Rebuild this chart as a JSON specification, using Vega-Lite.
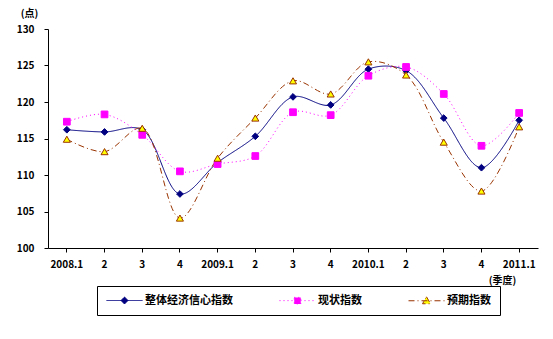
{
  "$schema": "https://vega.github.io/schema/vega-lite/v6.json",
  "width": 490,
  "height": 219,
  "autosize": {"type": "none"},
  "padding": {"left": 48, "top": 29, "right": 15, "bottom": 91},
  "background": "white",
  "config": {
    "view": {"stroke": null},
    "font": "Noto Sans CJK SC",
    "axis": {"labelFont": "Noto Sans CJK SC", "labelFontWeight": "bold", "labelFontSize": 10, "labelColor": "black", "titleFont": "Noto Sans CJK SC", "titleFontWeight": "bold", "titleFontSize": 10, "titleColor": "black", "domainColor": "black", "tickColor": "black", "grid": false}
  },
  "data": {
    "values": [
      {"q": "2008.1", "s": "整体经济信心指数", "v": 116.2},
      {"q": "2008.2", "s": "整体经济信心指数", "v": 115.9},
      {"q": "2008.3", "s": "整体经济信心指数", "v": 116.2},
      {"q": "2008.4", "s": "整体经济信心指数", "v": 107.4},
      {"q": "2009.1", "s": "整体经济信心指数", "v": 111.7},
      {"q": "2009.2", "s": "整体经济信心指数", "v": 115.3},
      {"q": "2009.3", "s": "整体经济信心指数", "v": 120.7},
      {"q": "2009.4", "s": "整体经济信心指数", "v": 119.6},
      {"q": "2010.1", "s": "整体经济信心指数", "v": 124.5},
      {"q": "2010.2", "s": "整体经济信心指数", "v": 124.3},
      {"q": "2010.3", "s": "整体经济信心指数", "v": 117.8},
      {"q": "2010.4", "s": "整体经济信心指数", "v": 111.0},
      {"q": "2011.1", "s": "整体经济信心指数", "v": 117.5},
      {"q": "2008.1", "s": "现状指数", "v": 117.3},
      {"q": "2008.2", "s": "现状指数", "v": 118.3},
      {"q": "2008.3", "s": "现状指数", "v": 115.5},
      {"q": "2008.4", "s": "现状指数", "v": 110.5},
      {"q": "2009.1", "s": "现状指数", "v": 111.5},
      {"q": "2009.2", "s": "现状指数", "v": 112.6},
      {"q": "2009.3", "s": "现状指数", "v": 118.6},
      {"q": "2009.4", "s": "现状指数", "v": 118.2},
      {"q": "2010.1", "s": "现状指数", "v": 123.6},
      {"q": "2010.2", "s": "现状指数", "v": 124.8},
      {"q": "2010.3", "s": "现状指数", "v": 121.1},
      {"q": "2010.4", "s": "现状指数", "v": 114.0},
      {"q": "2011.1", "s": "现状指数", "v": 118.5},
      {"q": "2008.1", "s": "预期指数", "v": 114.9},
      {"q": "2008.2", "s": "预期指数", "v": 113.2},
      {"q": "2008.3", "s": "预期指数", "v": 116.4},
      {"q": "2008.4", "s": "预期指数", "v": 104.1},
      {"q": "2009.1", "s": "预期指数", "v": 112.3},
      {"q": "2009.2", "s": "预期指数", "v": 117.8},
      {"q": "2009.3", "s": "预期指数", "v": 122.9},
      {"q": "2009.4", "s": "预期指数", "v": 121.1},
      {"q": "2010.1", "s": "预期指数", "v": 125.5},
      {"q": "2010.2", "s": "预期指数", "v": 123.7},
      {"q": "2010.3", "s": "预期指数", "v": 114.5},
      {"q": "2010.4", "s": "预期指数", "v": 107.8},
      {"q": "2011.1", "s": "预期指数", "v": 116.6}
    ]
  },
  "encoding": {
    "x": {
      "field": "q", "type": "ordinal", "sort": null,
      "scale": {"type": "band", "paddingInner": 0, "paddingOuter": 0},
      "axis": {
        "title": "(季度)", "titleX": 454, "titleY": 32, "titleBaseline": "middle", "titleAlign": "center",
        "labelAngle": 0, "tickSize": 4, "labelPadding": 7,
        "labelExpr": "slice(datum.value, 5) == '1' ? datum.value : slice(datum.value, 5)"
      }
    },
    "y": {
      "field": "v", "type": "quantitative",
      "scale": {"domain": [100, 130], "nice": false, "zero": false},
      "axis": {
        "title": "(点)", "titleAngle": 0, "titleX": -19, "titleY": -16, "titleBaseline": "middle", "titleAlign": "center",
        "values": [100, 105, 110, 115, 120, 125, 130], "tickSize": 4, "labelPadding": 10
      }
    }
  },
  "layer": [
    {
      "mark": {"type": "line", "interpolate": "catmull-rom", "strokeWidth": 1},
      "encoding": {
        "color": {
          "field": "s", "type": "nominal",
          "scale": {"domain": ["整体经济信心指数", "现状指数", "预期指数"], "range": ["#000080", "#FF00FF", "#993300"]},
          "legend": {
            "title": null, "orient": "none", "legendX": 49, "legendY": 257, "direction": "horizontal",
            "strokeColor": "black", "padding": 9, "columnPadding": 44, "symbolSize": 100, "symbolStrokeWidth": 1, "symbolOffset": 13,
            "labelFont": "Noto Sans CJK SC", "labelFontWeight": "bold", "labelFontSize": 11, "labelColor": "black", "labelOffset": 15,
            "encode": {
              "symbols": {
                "update": {
                  "shape": {"signal": "datum.value == '整体经济信心指数' ? 'M-3.6,0H3.6M0,-0.7L0.7,0L0,0.7L-0.7,0Z' : datum.value == '现状指数' ? 'M-3.6,0H-0.6M0.6,0H3.6M-0.65,-0.65H0.65V0.65H-0.65Z' : 'M-3.6,0H3.6M0,-0.8L0.8,0.6H-0.8Z'"},
                  "fill": {"signal": "datum.value == '整体经济信心指数' ? '#000080' : datum.value == '现状指数' ? '#FF00FF' : '#FFFF00'"},
                  "strokeDash": {"signal": "datum.value == '整体经济信心指数' ? '1,0' : datum.value == '现状指数' ? '1,3' : '6,3,1,3'"},
                  "opacity": {"value": 1}
                }
              }
            }
          }
        },
        "strokeDash": {
          "field": "s", "type": "nominal",
          "scale": {"domain": ["整体经济信心指数", "现状指数", "预期指数"], "range": [[1, 0], [1, 3], [6, 3, 1, 3]]},
          "legend": null
        }
      }
    },
    {
      "transform": [{"filter": {"field": "s", "equal": "整体经济信心指数"}}],
      "mark": {"type": "point", "shape": "diamond", "filled": true, "size": 45, "fill": "#000080", "stroke": "#000080", "strokeWidth": 1, "opacity": 1}
    },
    {
      "transform": [{"filter": {"field": "s", "equal": "现状指数"}}],
      "mark": {"type": "point", "shape": "square", "filled": true, "size": 45, "fill": "#FF00FF", "stroke": "#FF00FF", "strokeWidth": 1, "opacity": 1}
    },
    {
      "transform": [{"filter": {"field": "s", "equal": "预期指数"}}],
      "mark": {"type": "point", "shape": "triangle-up", "filled": true, "size": 50, "fill": "#FFFF00", "stroke": "#993300", "strokeWidth": 1, "opacity": 1}
    }
  ]
}
